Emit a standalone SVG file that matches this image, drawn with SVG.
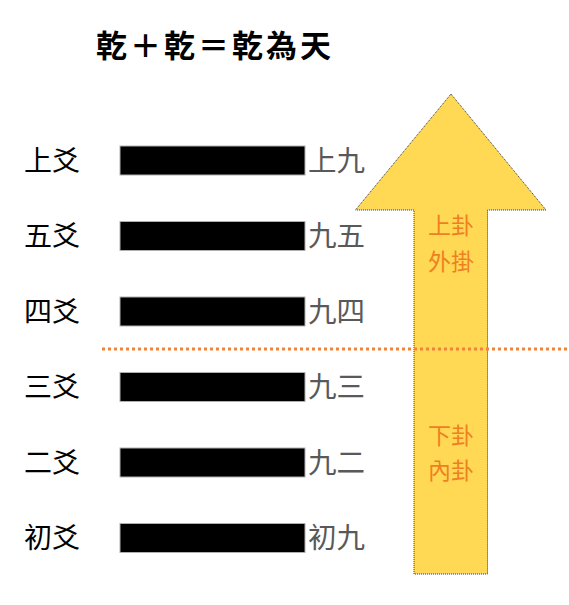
<svg xmlns="http://www.w3.org/2000/svg" width="569" height="605" viewBox="0 0 569 605">
<style>
.lbl{font-family:"Noto Sans CJK TC","Noto Sans CJK JP",sans-serif;font-size:28px;fill:#000}
.name{font-family:"Noto Sans CJK TC","Noto Sans CJK JP",sans-serif;font-size:28.5px;fill:#595959}
.bar{fill:#000;stroke:#b0b0b0;stroke-width:1}
.gua{font-family:"Noto Sans CJK TC","Noto Sans CJK JP",sans-serif;font-size:23px;fill:#F07F22;text-anchor:middle}
.title{font-family:"Noto Sans CJK TC","Noto Sans CJK JP",sans-serif;font-size:31px;font-weight:bold;fill:#000}
</style>
<rect width="569" height="605" fill="#fff"/>
<text id="title" class="title" x="96" y="57" letter-spacing="3">乾＋乾＝乾為天</text>
<g id="arrow">
<path d="M451,94 L546,210 L487.5,210 L487.5,574 L414,574 L414,210 L355.5,210 Z" fill="#FFD954" stroke="#333" stroke-width="1" stroke-dasharray="1 1"/>
<text class="gua" x="451" y="234">上卦</text>
<text class="gua" x="451" y="270">外掛</text>
<text class="gua" x="451" y="444">下卦</text>
<text class="gua" x="451" y="479">內卦</text>
</g>
<g id="connectors">
<line x1="102" y1="349" x2="569" y2="349" stroke="#F0843A" stroke-width="3" stroke-dasharray="3 3"/>
</g>
<g id="yao6"><text class="lbl" x="24" y="171">上爻</text><rect class="bar" x="120" y="146" width="185" height="29"/><text class="name" x="308" y="171">上九</text></g>
<g id="yao5"><text class="lbl" x="24" y="246">五爻</text><rect class="bar" x="120" y="221.5" width="185" height="29"/><text class="name" x="308" y="246">九五</text></g>
<g id="yao4"><text class="lbl" x="24" y="322">四爻</text><rect class="bar" x="120" y="297" width="185" height="29"/><text class="name" x="308" y="322">九四</text></g>
<g id="yao3"><text class="lbl" x="24" y="397">三爻</text><rect class="bar" x="120" y="372.5" width="185" height="29"/><text class="name" x="308" y="397">九三</text></g>
<g id="yao2"><text class="lbl" x="24" y="473">二爻</text><rect class="bar" x="120" y="448" width="185" height="29"/><text class="name" x="308" y="473">九二</text></g>
<g id="yao1"><text class="lbl" x="24" y="548">初爻</text><rect class="bar" x="120" y="523.5" width="185" height="29"/><text class="name" x="308" y="548">初九</text></g>
</svg>
